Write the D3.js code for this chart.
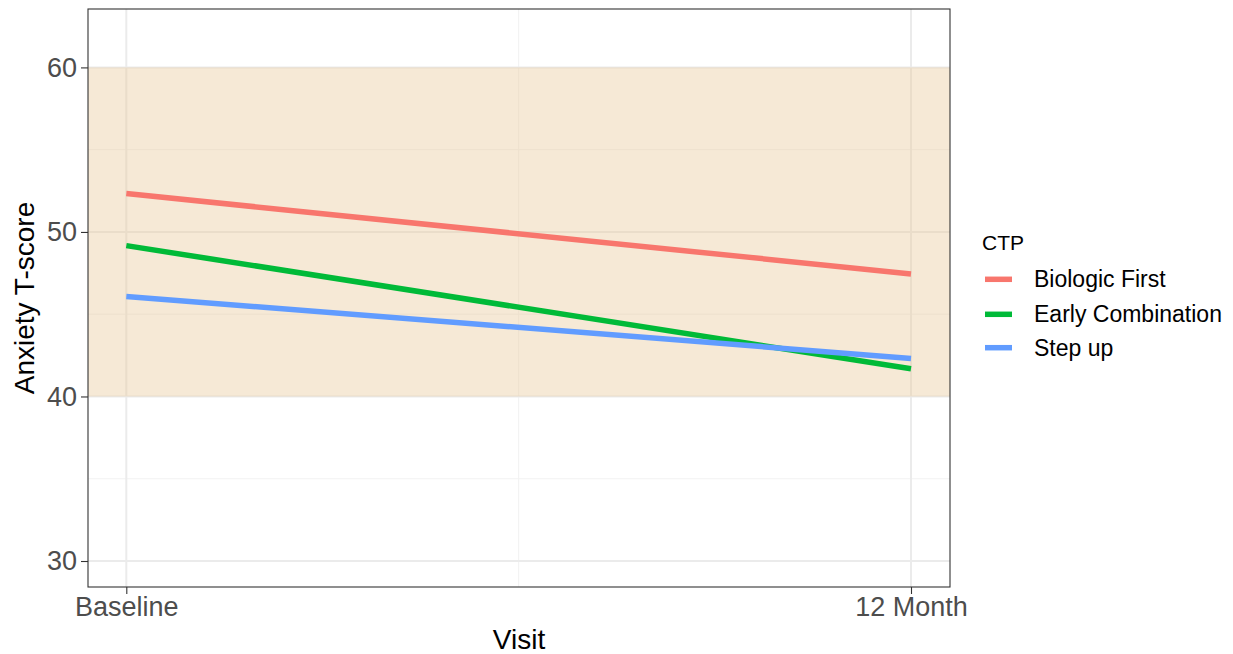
<!doctype html>
<html lang="en">
<head>
<meta charset="utf-8">
<title>Anxiety T-score by visit</title>
<style>
  body { margin: 0; background: #fff; }
  svg { display: block; font-family: "Liberation Sans", Arial, sans-serif; }
</style>
</head>
<body>
<svg id="chart" width="1233" height="654"></svg>
<script src="https://d3js.org/d3.v7.min.js"></script>
<script>
// data
const visits = ["Baseline", "12 Month"];
const groups = ["Biologic First", "Early Combination", "Step up"];
const biologicFirst = [52.33, 47.45];
const earlyCombination = [49.17, 41.68];
const stepUp = [46.08, 42.31];
const yTicks = [30, 40, 50, 60];
const yMinor = [35, 45, 55];
const normalBand = [40, 60];

const series = [biologicFirst, earlyCombination, stepUp];
const colors = ["#F8766D", "#00BA38", "#619CFF"];

const svg = d3.select("#chart");
const P = { left: 88, right: 950, top: 9, bottom: 587 };

const x = d3.scalePoint().domain(visits).range([126.3, 911]);
const xm = d3.scaleLinear().domain([0, 1]).range([126.3, 911]);
const y = d3.scaleLinear().domain([28.42, 63.55]).range([P.bottom, P.top]);

const panel = svg.append("g");
panel.append("rect")
  .attr("x", P.left).attr("y", P.top)
  .attr("width", P.right - P.left).attr("height", P.bottom - P.top)
  .attr("fill", "#fff");

// grid
panel.selectAll("line.ymin").data(yMinor).enter().append("line")
  .attr("x1", P.left).attr("x2", P.right)
  .attr("y1", d => y(d)).attr("y2", d => y(d))
  .attr("stroke", "#F2F2F2").attr("stroke-width", 1);
panel.append("line")
  .attr("x1", xm(0.5)).attr("x2", xm(0.5))
  .attr("y1", P.top).attr("y2", P.bottom)
  .attr("stroke", "#F2F2F2").attr("stroke-width", 1);
panel.selectAll("line.ymaj").data(yTicks).enter().append("line")
  .attr("x1", P.left).attr("x2", P.right)
  .attr("y1", d => y(d)).attr("y2", d => y(d))
  .attr("stroke", "#EBEBEB").attr("stroke-width", 2);
panel.selectAll("line.xmaj").data(visits).enter().append("line")
  .attr("x1", d => x(d)).attr("x2", d => x(d))
  .attr("y1", P.top).attr("y2", P.bottom)
  .attr("stroke", "#EBEBEB").attr("stroke-width", 2);

// normal range band
panel.append("rect")
  .attr("x", P.left).attr("width", P.right - P.left)
  .attr("y", y(normalBand[1])).attr("height", y(normalBand[0]) - y(normalBand[1]))
  .attr("fill", "#E8C999").attr("fill-opacity", 0.4);

// lines
const line = d3.line().x((d, i) => x(visits[i])).y(d => y(d));
panel.selectAll("path.s").data(series).enter().append("path")
  .attr("d", d => line(d))
  .attr("fill", "none")
  .attr("stroke", (d, i) => colors[i])
  .attr("stroke-width", 5.5);

// border
panel.append("rect")
  .attr("x", P.left).attr("y", P.top)
  .attr("width", P.right - P.left).attr("height", P.bottom - P.top)
  .attr("fill", "none").attr("stroke", "#333").attr("stroke-width", 1.1);

// axes
const yAxis = svg.append("g").attr("transform", `translate(${P.left},0)`)
  .call(d3.axisLeft(y).tickValues(yTicks).tickSize(7).tickPadding(4));
const xAxis = svg.append("g").attr("transform", `translate(0,${P.bottom})`)
  .call(d3.axisBottom(x).tickSize(7).tickPadding(3));
[yAxis, xAxis].forEach(a => {
  a.select(".domain").remove();
  a.selectAll(".tick line").attr("stroke", "#333").attr("stroke-width", 1.1);
  a.selectAll(".tick text").attr("fill", "#4D4D4D")
    .style("font-size", "27px").style("font-family", "Liberation Sans, Arial, sans-serif");
});

svg.append("text").attr("x", (P.left + P.right) / 2).attr("y", 649)
  .attr("text-anchor", "middle").attr("font-size", 28).text("Visit");
svg.append("text")
  .attr("transform", `translate(34,${(P.top + P.bottom) / 2}) rotate(-90)`)
  .attr("text-anchor", "middle").attr("font-size", 28).text("Anxiety T-score");

// legend
const lg = svg.append("g");
lg.append("text").attr("x", 982).attr("y", 250).attr("font-size", 21).text("CTP");
const items = lg.selectAll("g.item").data(groups).enter().append("g")
  .attr("transform", (d, i) => `translate(0,${[279.3, 314.3, 347.7][i]})`);
items.append("line").attr("x1", 985).attr("x2", 1012)
  .attr("stroke", (d, i) => colors[i]).attr("stroke-width", 5.5);
items.append("text").attr("x", 1034).attr("dy", "0.35em")
  .attr("font-size", 23).text(d => d);
</script>
</body>
</html>
